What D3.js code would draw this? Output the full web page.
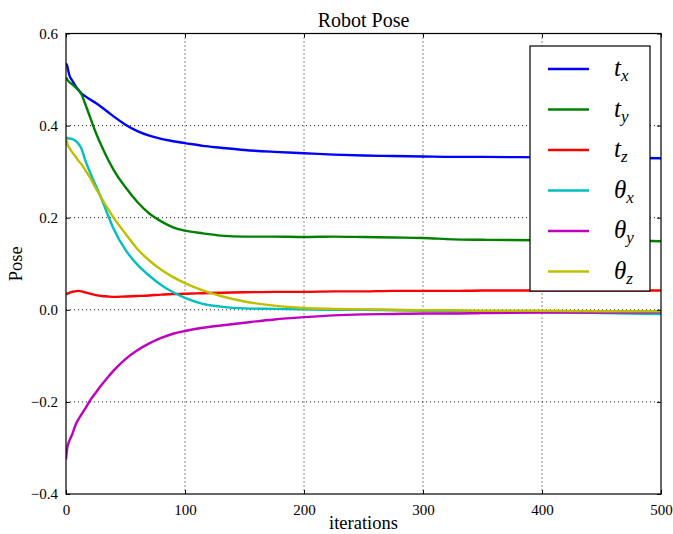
<!DOCTYPE html>
<html>
<head>
<meta charset="utf-8">
<script src="https://cdn.jsdelivr.net/npm/d3@7"></script>
<style>
  html, body { margin: 0; padding: 0; background: #fff; }
  svg { display: block; }
  text { font-family: "Liberation Serif", "DejaVu Serif", serif; fill: #000; }
</style>
</head>
<body>
<svg id="chart" width="673" height="534"></svg>
<script>
const iterations = [0,1,2,3,5,8,10,13,16,20,25,30,35,40,50,60,70,80,90,100,115,130,150,175,200,225,250,275,300,325,350,400,450,500];
const tx = [0.535,0.530,0.518,0.508,0.499,0.486,0.479,0.470,0.464,0.457,0.449,0.440,0.430,0.420,0.402,0.388,0.378,0.371,0.366,0.362,0.356,0.352,0.347,0.343,0.340,0.337,0.335,0.334,0.333,0.332,0.332,0.331,0.330,0.329];
const ty = [0.505,0.500,0.497,0.494,0.490,0.483,0.478,0.468,0.448,0.420,0.385,0.355,0.328,0.304,0.266,0.234,0.209,0.192,0.179,0.172,0.166,0.161,0.159,0.159,0.158,0.159,0.158,0.157,0.156,0.153,0.152,0.151,0.151,0.149];
const tz = [0.033,0.035,0.036,0.037,0.039,0.040,0.041,0.040,0.038,0.035,0.032,0.030,0.029,0.028,0.029,0.030,0.031,0.033,0.034,0.035,0.036,0.037,0.038,0.039,0.039,0.040,0.040,0.041,0.041,0.041,0.042,0.042,0.042,0.042];
const thx = [0.375,0.373,0.372,0.372,0.371,0.367,0.362,0.350,0.326,0.300,0.270,0.240,0.207,0.176,0.130,0.098,0.074,0.054,0.038,0.026,0.013,0.007,0.003,0.002,0.001,0.000,0.000,-0.001,-0.002,-0.003,-0.004,-0.005,-0.007,-0.009];
const thy = [-0.325,-0.300,-0.290,-0.283,-0.272,-0.250,-0.240,-0.227,-0.215,-0.198,-0.180,-0.163,-0.147,-0.132,-0.107,-0.088,-0.073,-0.061,-0.052,-0.046,-0.039,-0.034,-0.028,-0.021,-0.016,-0.012,-0.010,-0.009,-0.008,-0.008,-0.007,-0.006,-0.006,-0.005];
const thz = [0.373,0.362,0.355,0.351,0.343,0.333,0.325,0.316,0.304,0.288,0.264,0.242,0.220,0.200,0.165,0.132,0.107,0.087,0.071,0.058,0.042,0.030,0.018,0.009,0.004,0.002,0.001,0.000,-0.001,-0.001,-0.002,-0.002,-0.003,-0.003];

const seriesNames = ["t|x","t|y","t|z","θ|x","θ|y","θ|z"];
const seriesColors = ["#0000ff","#008000","#ff0000","#00bfbf","#bf00bf","#bfbf00"];
const seriesValues = [tx, ty, tz, thx, thy, thz];

const xTicks = [0,100,200,300,400,500];
const yTicks = [-0.4,-0.2,0.0,0.2,0.4,0.6];

const L = 66, R = 661, T = 33.5, B = 494;
const svg = d3.select("#chart");
const x = d3.scaleLinear().domain([0,500]).range([L,R]);
const y = d3.scaleLinear().domain([-0.4,0.6]).range([B,T]);

// grid
const grid = svg.append("g");
xTicks.slice(1,-1).forEach(t => {
  grid.append("line").attr("x1",x(t)).attr("x2",x(t)).attr("y1",T).attr("y2",B)
    .attr("stroke","#000").attr("stroke-width",0.9).attr("stroke-dasharray","1,3");
});
yTicks.slice(1,-1).forEach(t => {
  grid.append("line").attr("x1",L).attr("x2",R).attr("y1",y(t)).attr("y2",y(t))
    .attr("stroke","#000").attr("stroke-width",0.9).attr("stroke-dasharray","1,3");
});

// lines
svg.append("clipPath").attr("id","clip").append("rect")
  .attr("x",L).attr("y",T).attr("width",R-L).attr("height",B-T);
const line = d3.line().x(d => x(d[0])).y(d => y(d[1])).curve(d3.curveMonotoneX);
const lg = svg.append("g").attr("clip-path","url(#clip)");
seriesValues.forEach((vals,i) => {
  lg.append("path").datum(iterations.map((it,k) => [it, vals[k]]))
    .attr("d", line).attr("fill","none").attr("stroke",seriesColors[i])
    .attr("stroke-width",2.4).attr("stroke-linejoin","round");
});

// axes (ticks inside)
const fmtY = d => d3.format(".1f")(d).replace("-","\u2212");
const axB = d3.axisBottom(x).tickValues(xTicks).tickSizeInner(-4).tickSizeOuter(0).tickPadding(10).tickFormat(d3.format("d"));
const axT = d3.axisTop(x).tickValues(xTicks).tickSizeInner(-4).tickSizeOuter(0).tickFormat("");
const axLft = d3.axisLeft(y).tickValues(yTicks).tickSizeInner(-4).tickSizeOuter(0).tickPadding(8).tickFormat(fmtY);
const axRt = d3.axisRight(y).tickValues(yTicks).tickSizeInner(-4).tickSizeOuter(0).tickFormat("");
[[axB,`translate(0,${B})`],[axT,`translate(0,${T})`],[axLft,`translate(${L},0)`],[axRt,`translate(${R},0)`]].forEach(([a,tr]) => {
  const g = svg.append("g").attr("transform",tr).call(a);
  g.select(".domain").remove();
  g.selectAll("line").attr("stroke","#000").attr("stroke-width",1);
  g.selectAll("text").style("font-family","'Liberation Serif', serif").style("font-size","15px");
});

// frame
svg.append("rect").attr("x",L).attr("y",T).attr("width",R-L).attr("height",B-T)
  .attr("fill","none").attr("stroke","#000").attr("stroke-width",1.2);

// title and labels
svg.append("text").attr("x",(L+R)/2).attr("y",27).attr("text-anchor","middle")
  .style("font-size","20px").text("Robot Pose");
svg.append("text").attr("x",(L+R)/2).attr("y",529).attr("text-anchor","middle")
  .style("font-size","18.5px").text("iterations");
svg.append("text").attr("transform",`translate(22,${(T+B)/2}) rotate(-90)`).attr("text-anchor","middle")
  .style("font-size","18.5px").text("Pose");

// legend
const lgX = 530, lgY = 46, lgW = 120, lgH = 245;
svg.append("rect").attr("x",lgX).attr("y",lgY).attr("width",lgW).attr("height",lgH)
  .attr("fill","#fff").attr("stroke","#000").attr("stroke-width",1.2);
seriesNames.forEach((nm,i) => {
  const cy = 69 + i*40.5;
  svg.append("line").attr("x1",548).attr("x2",589).attr("y1",cy).attr("y2",cy)
    .attr("stroke",seriesColors[i]).attr("stroke-width",2.5);
  const [base, sub] = nm.split("|");
  const t = svg.append("text").attr("x",614).attr("y",cy+7)
    .style("font-size","25px").style("font-style","italic");
  t.append("tspan").text(base);
  t.append("tspan").attr("dy",5).style("font-size","17px").text(sub);
});
</script>
</body>
</html>
